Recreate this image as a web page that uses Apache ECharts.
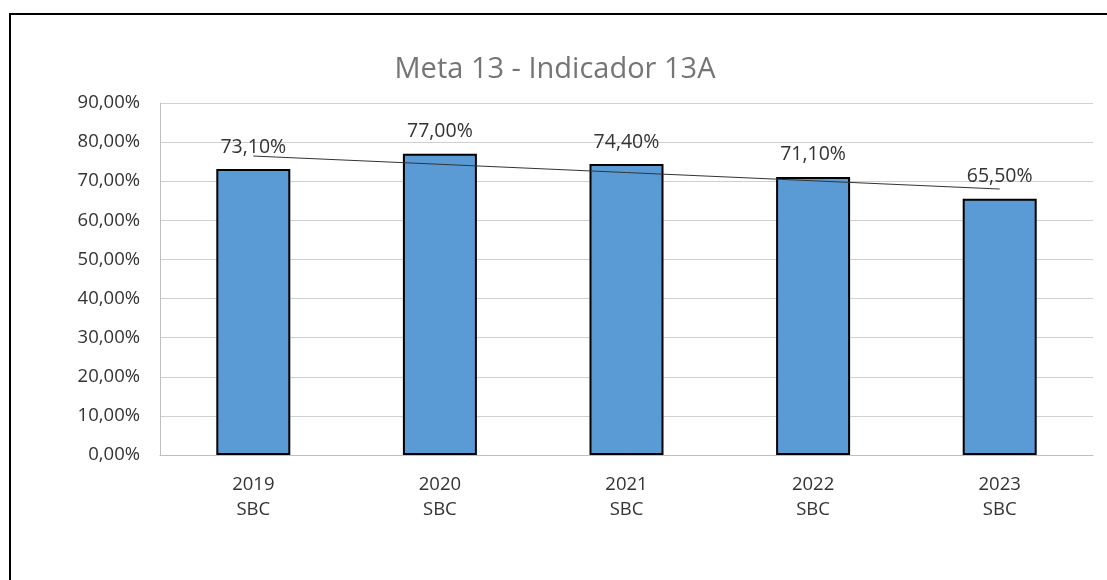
<!DOCTYPE html>
<html>
<head>
<meta charset="utf-8">
<script src="https://cdn.jsdelivr.net/npm/echarts@6/dist/echarts.min.js"></script>
<style>
  html, body { margin: 0; padding: 0; background: #fff; }
  #chart { width: 1107px; height: 580px; }
</style>
</head>
<body>
<div id="chart"></div>
<script>
// Indicator 13A, share per year (%)
const years = ['2019', '2020', '2021', '2022', '2023'];
const unit = 'SBC';
const values = [73.1, 77.0, 74.4, 71.1, 65.5];
const yTicks = [0, 10, 20, 30, 40, 50, 60, 70, 80, 90];

// Linear (least-squares) trend over the yearly values
function linearTrend(ys) {
  const n = ys.length;
  const xs = ys.map((_, i) => i + 1);
  const mx = xs.reduce((a, b) => a + b, 0) / n;
  const my = ys.reduce((a, b) => a + b, 0) / n;
  let sxy = 0, sxx = 0;
  for (let i = 0; i < n; i++) {
    sxy += (xs[i] - mx) * (ys[i] - my);
    sxx += (xs[i] - mx) * (xs[i] - mx);
  }
  const slope = sxy / sxx;
  return xs.map(x => my + slope * (x - mx));
}
const trend = linearTrend(values);

const pct = v => v.toFixed(2).replace('.', ',') + '%';
const FONT = '"Open Sans", "Liberation Sans", sans-serif';

const chart = echarts.init(document.getElementById('chart'), null, { renderer: 'canvas' });
chart.setOption({
  animation: false,
  backgroundColor: '#ffffff',
  textStyle: { fontFamily: FONT },
  title: {
    text: 'Meta 13 - Indicador 13A',
    left: 550,
    textAlign: 'center',
    top: 50,
    textStyle: { fontFamily: FONT, fontSize: 29, fontWeight: 'normal', color: '#757575' }
  },
  graphic: [{
    type: 'rect',
    shape: { x: 10, y: 14, width: 1200, height: 700 },
    style: { fill: 'none', stroke: '#000000', lineWidth: 2 },
    silent: true
  }],
  grid: { left: 160, right: 14, top: 103, bottom: 125, containLabel: false },
  xAxis: {
    type: 'category',
    data: years.map(y => y + '\n' + unit),
    axisLine: { lineStyle: { color: '#bfbfbf', width: 1 } },
    axisTick: { show: false },
    axisLabel: { color: '#333333', fontSize: 18.5, margin: 17, lineHeight: 25, fontFamily: FONT }
  },
  yAxis: {
    type: 'value',
    min: yTicks[0],
    max: yTicks[yTicks.length - 1],
    interval: 10,
    axisLine: { show: true, lineStyle: { color: '#bfbfbf', width: 1 } },
    axisTick: { show: false },
    splitLine: { lineStyle: { color: '#d0d0d0', width: 1 } },
    axisLabel: { color: '#333333', fontSize: 18.5, margin: 20, formatter: v => pct(v), fontFamily: FONT }
  },
  series: [
    {
      type: 'bar',
      data: values,
      barWidth: 74,
      itemStyle: { color: '#5b9bd5', borderColor: '#000000', borderWidth: 2 },
      label: {
        show: true,
        position: 'top',
        distance: 12,
        color: '#333333',
        fontSize: 19.5,
        fontFamily: FONT,
        formatter: p => pct(p.value)
      },
      z: 2
    },
    {
      type: 'line',
      data: trend,
      symbol: 'none',
      lineStyle: { color: '#333333', width: 1 },
      z: 3,
      silent: true
    }
  ]
});
</script>
</body>
</html>
